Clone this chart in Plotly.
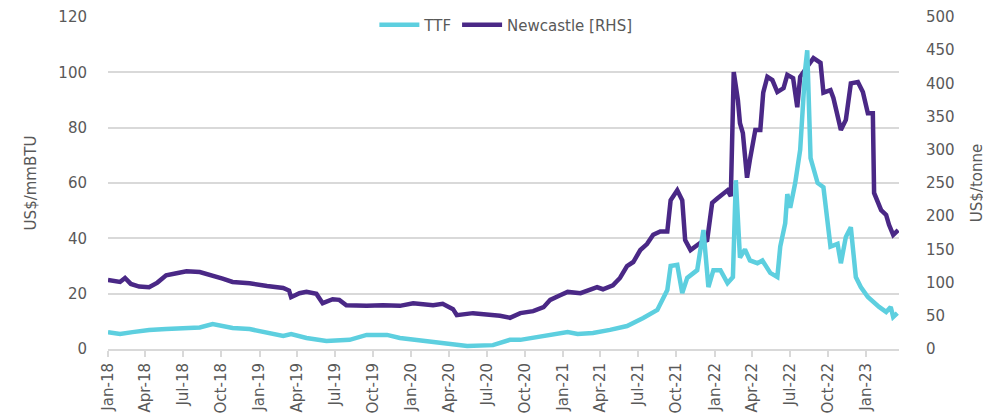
import plotly.graph_objects as go

# TTF gas price, US$/mmBTU (left axis)
ttf_dates = [
    "2018-01-01", "2018-01-30", "2018-03-01", "2018-04-10", "2018-05-21", "2018-07-16",
    "2018-08-10", "2018-09-10", "2018-10-28", "2018-12-08", "2019-01-19", "2019-02-27",
    "2019-03-18", "2019-04-24", "2019-06-11", "2019-08-06", "2019-09-16", "2019-11-04",
    "2019-12-05", "2020-02-09", "2020-04-04", "2020-05-15", "2020-07-16", "2020-08-26",
    "2020-09-20", "2020-11-15", "2021-01-12", "2021-02-05", "2021-03-14", "2021-04-24",
    "2021-06-04", "2021-07-13", "2021-08-16", "2021-09-09", "2021-09-17", "2021-10-03",
    "2021-10-15", "2021-10-27", "2021-11-20", "2021-12-05", "2021-12-17", "2021-12-29",
    "2022-01-15", "2022-02-01", "2022-02-14", "2022-02-21", "2022-03-03", "2022-03-15",
    "2022-03-27", "2022-04-14", "2022-04-26", "2022-05-15", "2022-06-01", "2022-06-08",
    "2022-06-20", "2022-06-25", "2022-07-02", "2022-07-14", "2022-07-26", "2022-08-07",
    "2022-08-12", "2022-08-20", "2022-08-27", "2022-09-06", "2022-09-20", "2022-09-30",
    "2022-10-07", "2022-10-24", "2022-11-01", "2022-11-13", "2022-11-25", "2022-12-07",
    "2022-12-19", "2023-01-05", "2023-01-17", "2023-02-01", "2023-02-18", "2023-03-01",
    "2023-03-07", "2023-03-17",
]
ttf = [
    6.1, 5.4, 6.1, 6.9, 7.2, 7.6,
    7.8, 9.0, 7.6, 7.2, 6.1, 4.7,
    5.4, 4.0, 2.9, 3.3, 5.1, 5.1,
    4.0, 2.9, 1.8, 1.1, 1.4, 3.3,
    3.3, 4.7, 6.1, 5.4, 5.8, 6.9,
    8.3, 11.2, 14.1, 21.3, 30.0, 30.4,
    20.2, 25.7, 28.5, 43.0, 22.4, 28.5,
    28.5, 23.8, 26.0, 61.0, 33.0, 36.0,
    32.0, 31.0, 32.0, 27.5, 26.0, 37.0,
    45.5, 56.0, 51.0, 60.0, 72.0, 101.0,
    108.0, 69.0, 65.0, 60.0, 58.5, 46.6,
    37.0, 38.0, 31.0, 40.5, 44.0, 26.0,
    22.4, 18.8, 17.0, 15.2, 13.4, 15.2,
    11.6, 13.0,
]

# Newcastle coal price, US$/tonne (right axis)
ncl_dates = [
    "2018-01-01", "2018-01-30", "2018-02-11", "2018-02-25", "2018-03-17", "2018-04-10",
    "2018-04-30", "2018-05-21", "2018-06-15", "2018-07-09", "2018-08-10", "2018-09-10",
    "2018-10-04", "2018-10-28", "2018-12-08", "2019-01-19", "2019-02-27", "2019-03-13",
    "2019-03-18", "2019-04-07", "2019-04-24", "2019-05-18", "2019-06-02", "2019-06-26",
    "2019-07-12", "2019-07-29", "2019-09-16", "2019-10-25", "2019-12-05", "2020-01-06",
    "2020-02-23", "2020-03-17", "2020-04-11", "2020-04-20", "2020-05-29", "2020-08-02",
    "2020-08-26", "2020-09-20", "2020-10-21", "2020-11-15", "2020-12-01", "2020-12-25",
    "2021-01-12", "2021-02-12", "2021-03-07", "2021-03-24", "2021-04-07", "2021-05-01",
    "2021-05-18", "2021-06-04", "2021-06-19", "2021-07-06", "2021-07-22", "2021-08-06",
    "2021-08-23", "2021-09-09", "2021-09-17", "2021-10-03", "2021-10-15", "2021-10-22",
    "2021-11-04", "2021-11-28", "2021-12-14", "2021-12-26", "2022-01-08", "2022-01-22",
    "2022-02-01", "2022-02-09", "2022-02-16", "2022-02-26", "2022-03-03", "2022-03-10",
    "2022-03-20", "2022-03-27", "2022-04-09", "2022-04-21", "2022-04-28", "2022-05-08",
    "2022-05-20", "2022-06-01", "2022-06-16", "2022-06-25", "2022-07-09", "2022-07-19",
    "2022-07-26", "2022-08-12", "2022-08-27", "2022-09-13", "2022-09-20", "2022-10-07",
    "2022-10-14", "2022-11-01", "2022-11-13", "2022-11-25", "2022-12-12", "2022-12-24",
    "2023-01-05", "2023-01-17", "2023-01-20", "2023-02-06", "2023-02-18", "2023-02-25",
    "2023-03-07", "2023-03-19",
]
newcastle = [
    104, 101, 107, 98, 94, 93,
    100, 111, 114, 117, 116, 111,
    106, 101, 99, 95, 92, 88,
    78, 84, 86, 83, 69, 75,
    74, 66, 65, 66, 65, 69,
    66, 68, 60, 51, 54, 50,
    47, 54, 57, 63, 74, 81,
    86, 84, 89, 93, 90, 96,
    107, 125, 131, 149, 158, 172,
    177, 177, 224, 239, 224, 164,
    149, 160, 164, 220, 227, 235,
    239, 230, 417, 375, 340, 325,
    258, 285, 330, 330, 386, 410,
    405, 387, 393, 413, 408, 364,
    410, 425, 438, 431, 386, 390,
    378, 330, 345, 400, 402, 387,
    355, 355, 235, 209, 202, 187,
    172, 179,
]

grey = "#595959"
font = "DejaVu Sans"

fig = go.Figure()

fig.add_trace(
    go.Scatter(
        x=ttf_dates,
        y=ttf,
        name="TTF",
        mode="lines",
        line=dict(color="#5dcfdf", width=4.5),
        yaxis="y2",
    )
)

fig.add_trace(
    go.Scatter(
        x=ncl_dates,
        y=newcastle,
        name="Newcastle [RHS]",
        mode="lines",
        line=dict(color="#4a2886", width=4.5),
        yaxis="y",
    )
)

# page body has an 8px margin, so the div is sized to fill the rest of the window
fig.update_layout(
    width=983,
    height=412,
    template="plotly_white",
    plot_bgcolor="white",
    paper_bgcolor="white",
    font=dict(family=font, size=15, color=grey),
    margin=dict(l=100, r=92, t=9, b=71, autoexpand=False),
    showlegend=True,
    legend=dict(
        orientation="h",
        x=0.503,
        xanchor="center",
        y=0.976,
        yanchor="middle",
        bgcolor="rgba(0,0,0,0)",
        font=dict(size=15, color=grey),
        itemwidth=40,
        tracegroupgap=0,
    ),
    xaxis=dict(
        type="date",
        range=["2018-01-01", "2023-03-21"],
        tick0="2018-01-01",
        dtick="M3",
        tickformat="%b-%y",
        tickangle=-90,
        ticks="outside",
        ticklen=6,
        tickcolor="#d9d9d9",
        tickwidth=1.5,
        showline=True,
        linecolor="#d9d9d9",
        linewidth=2,
        showgrid=False,
        zeroline=False,
        tickfont=dict(size=15, color=grey),
    ),
    # right axis: Newcastle
    yaxis=dict(
        side="right",
        range=[0, 500],
        dtick=50,
        showgrid=False,
        zeroline=False,
        showline=False,
        ticklabelstandoff=26,
        title=dict(text="US$/tonne", font=dict(size=15, color=grey), standoff=17),
        tickfont=dict(size=15, color=grey),
    ),
    # left axis: TTF
    yaxis2=dict(
        side="left",
        overlaying="y",
        range=[0, 120],
        dtick=20,
        showgrid=True,
        gridcolor="#d9d9d9",
        gridwidth=2,
        zeroline=False,
        showline=False,
        ticklabelstandoff=20,
        title=dict(text="US$/mmBTU", font=dict(size=15, color=grey), standoff=18),
        tickfont=dict(size=15, color=grey),
    ),
)

fig.write_html("out.html")
